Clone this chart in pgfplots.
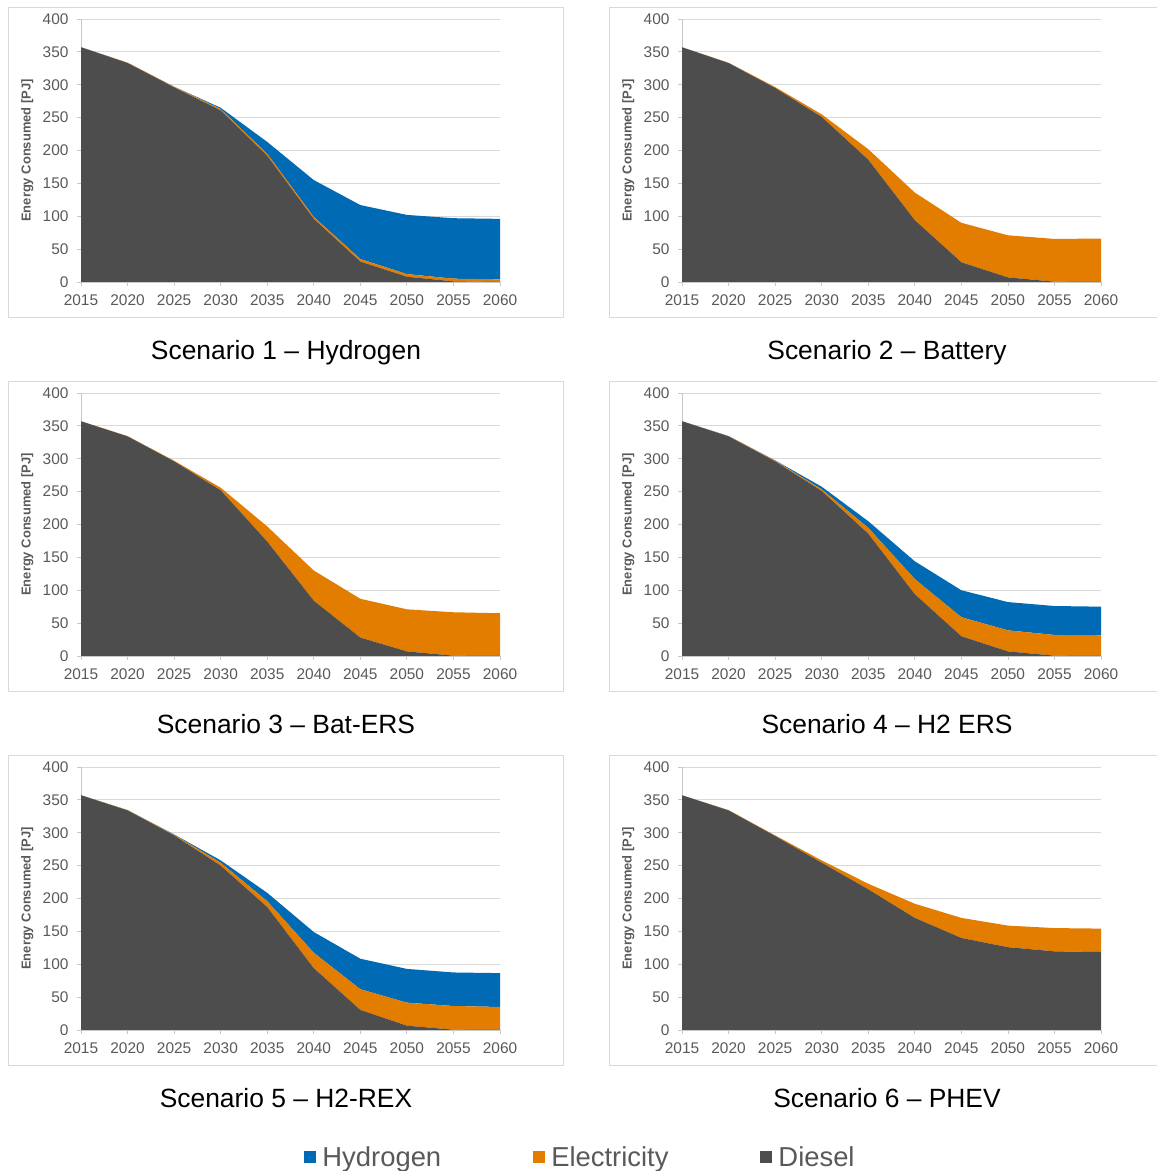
\documentclass[border=0pt]{standalone}
\usepackage{fontspec}
\setmainfont{Liberation Sans}
\usepackage{pgfplots}
\usepackage{pgfplotstable}
\pgfplotsset{compat=1.18}
\definecolor{hyd}{RGB}{0,106,180}
\definecolor{ele}{RGB}{227,125,0}
\definecolor{dies}{RGB}{77,77,77}
\definecolor{gridgray}{RGB}{217,217,217}
\definecolor{axisgray}{RGB}{200,200,200}
\definecolor{tickgray}{RGB}{89,89,89}

\pgfplotstableread{
year diesel elec hyd
2015 357 0 0
2020 333 0.5 0
2025 296 1 0
2030 261 2 2
2035 192 3 18
2040 96 3 56
2045 31 4 82
2050 8 4 90
2055 1 4 92
2060 0 4 92
}\sone
\pgfplotstableread{
year diesel elec hyd
2015 357 0 0
2020 333 0.5 0
2025 295 1.5 0
2030 251 4 0
2035 186 16 0
2040 94 42 0
2045 30 60 0
2050 7 64 0
2055 0.5 65 0
2060 0 66 0
}\stwo
\pgfplotstableread{
year diesel elec hyd
2015 357 0 0
2020 334 0.5 0
2025 296 1 0
2030 252 4 0
2035 174 23 0
2040 84 46 0
2045 28 59 0
2050 7 64 0
2055 0.5 66 0
2060 0 65 0
}\sthree
\pgfplotstableread{
year diesel elec hyd
2015 357 0 0
2020 334 0.5 0
2025 296 1 0.5
2030 251 2.5 4
2035 186 9 10
2040 94 23 27
2045 30 29 41
2050 7 32 43
2055 0.5 31.5 44
2060 0 31.5 43.5
}\sfour
\pgfplotstableread{
year diesel elec hyd
2015 357 0 0
2020 334 0.5 0
2025 296 1 0.5
2030 250 4.5 3.5
2035 187 9 12.6
2040 94 23.5 31.5
2045 30.5 31.5 46.4
2050 6.6 35 51.3
2055 0.5 36 51
2060 0 35 51.5
}\sfive
\pgfplotstableread{
year diesel elec hyd
2015 357 0 0
2020 334 0.5 0
2025 295 1 0
2030 254.5 3.5 0
2035 214 8.4 0
2040 170.5 21.5 0
2045 140 30.5 0
2050 126 32.8 0
2055 119.6 35.4 0
2060 118.6 35.6 0
}\ssix

\pgfplotsset{
  panel/.style={
    scale only axis, width=419bp, height=263bp,
    anchor=south west,
    xmin=2015, xmax=2060, ymin=0, ymax=400,
    xtick={2015,2020,...,2060}, ytick={0,50,...,400},
    axis x line*=bottom, axis y line*=left,
    axis line style={draw=axisgray, line width=0.8bp, -},
    tick align=outside, major tick length=4bp,
    tick style={draw=axisgray, line width=0.8bp},
    ymajorgrids, grid style={draw=gridgray, line width=0.9bp},
    /pgf/number format/1000 sep={},
    /pgf/number format/assume math mode=true,
    tick label style={font=\fontsize{15.5}{17}\selectfont, text=tickgray},
    x tick label style={yshift=-5bp},
    y tick label style={xshift=-5bp},
    ylabel={Energy Consumed [PJ]},
    every axis y label/.style={at={(axis description cs:-0.128,0.5)}, rotate=90, anchor=center,
      font=\bfseries\fontsize{13}{15}\selectfont, text=tickgray},
    stack plots=y,
  },
}

\begin{document}
\begin{tikzpicture}[x=1bp,y=1bp]
\useasboundingbox (0,0) rectangle (1157,1171);
% frames
\foreach \yb in {853,479,105} {
  \draw[gridgray, line width=1bp] (8,\yb) rectangle (563,\yb+310);
  \draw[gridgray, line width=1bp] (609,\yb) rectangle (1170,\yb+310);
}
% Row 1
\begin{axis}[panel, at={(81bp,889bp)}]
\addplot[fill=dies, draw=none] table[x=year,y=diesel]{\sone} \closedcycle;
\addplot[fill=ele, draw=none] table[x=year,y=elec]{\sone} \closedcycle;
\addplot[fill=hyd, draw=none] table[x=year,y=hyd]{\sone} \closedcycle;
\end{axis}
\begin{axis}[panel, at={(682bp,889bp)}]
\addplot[fill=dies, draw=none] table[x=year,y=diesel]{\stwo} \closedcycle;
\addplot[fill=ele, draw=none] table[x=year,y=elec]{\stwo} \closedcycle;
\end{axis}
% Row 2
\begin{axis}[panel, at={(81bp,515bp)}]
\addplot[fill=dies, draw=none] table[x=year,y=diesel]{\sthree} \closedcycle;
\addplot[fill=ele, draw=none] table[x=year,y=elec]{\sthree} \closedcycle;
\end{axis}
\begin{axis}[panel, at={(682bp,515bp)}]
\addplot[fill=dies, draw=none] table[x=year,y=diesel]{\sfour} \closedcycle;
\addplot[fill=ele, draw=none] table[x=year,y=elec]{\sfour} \closedcycle;
\addplot[fill=hyd, draw=none] table[x=year,y=hyd]{\sfour} \closedcycle;
\end{axis}
% Row 3
\begin{axis}[panel, at={(81bp,141bp)},
  legend columns=3, reverse legend,
  legend image code/.code={\fill[#1] (0bp,-6bp) rectangle (12bp,6bp);},
  legend style={at={(axis description cs:1.191,-0.483)}, anchor=center,
    draw=none, fill=none, font=\fontsize{27.5}{30}\selectfont, text=tickgray,
    nodes={inner sep=1bp},
    /tikz/every odd column/.append style={column sep=5bp},
    /tikz/every even column/.append style={column sep=91bp}},
]
\addplot[fill=dies, draw=none] table[x=year,y=diesel]{\sfive} \closedcycle;
\addlegendentry{Diesel}
\addplot[fill=ele, draw=none] table[x=year,y=elec]{\sfive} \closedcycle;
\addlegendentry{Electricity}
\addplot[fill=hyd, draw=none] table[x=year,y=hyd]{\sfive} \closedcycle;
\addlegendentry{Hydrogen}
\end{axis}
\begin{axis}[panel, at={(682bp,141bp)}]
\addplot[fill=dies, draw=none] table[x=year,y=diesel]{\ssix} \closedcycle;
\addplot[fill=ele, draw=none] table[x=year,y=elec]{\ssix} \closedcycle;
\end{axis}
% titles
\begin{scope}[every node/.style={font=\fontsize{26.5}{30}\selectfont, anchor=base, inner sep=0pt}]
\node at (286,811) {Scenario 1 – Hydrogen};
\node at (887,811) {Scenario 2 – Battery};
\node at (286,437) {Scenario 3 – Bat-ERS};
\node at (887,437) {Scenario 4 – H2 ERS};
\node at (286,63) {Scenario 5 – H2-REX};
\node at (887,63) {Scenario 6 – PHEV};
\end{scope}
\end{tikzpicture}
\end{document}
